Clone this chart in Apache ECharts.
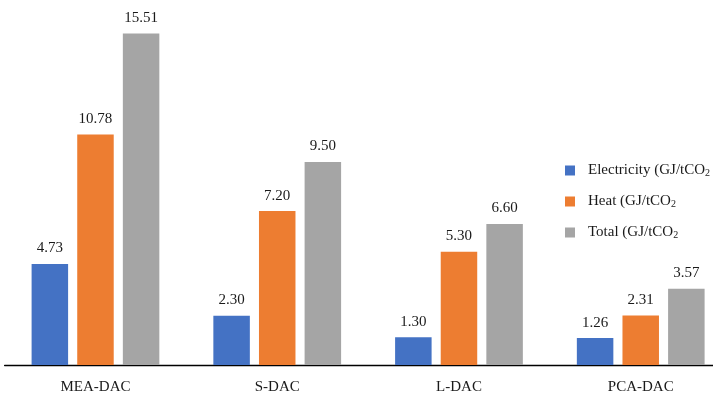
<!DOCTYPE html>
<html><head><meta charset="utf-8">
<script src="https://cdn.jsdelivr.net/npm/echarts@6/dist/echarts.min.js"></script>
<style>html,body{margin:0;padding:0;background:#fff}#c{width:713px;height:396px}</style>
</head><body><div id="c"></div>
<script>
var categories = ['MEA-DAC', 'S-DAC', 'L-DAC', 'PCA-DAC'];
var electricity = [4.73, 2.30, 1.30, 1.26];
var heat = [10.78, 7.20, 5.30, 2.31];
var total = [15.51, 9.50, 6.60, 3.57];
var seriesNames = ['Electricity (GJ/tCO2', 'Heat (GJ/tCO2', 'Total (GJ/tCO2'];
var FONT = '"Liberation Serif", "DejaVu Serif", serif';
var TXT = '#1a1a1a';
var chart = echarts.init(document.getElementById('c'));
function mk(name, data, color) {
  return {
    name: name, type: 'bar', data: data,
    barWidth: 36.5, barGap: '25%',
    itemStyle: { color: color },
    label: { show: true, position: 'top', distance: 8, color: TXT,
      fontFamily: FONT, fontSize: 15,
      formatter: function (p) { return p.value.toFixed(2); } }
  };
}
chart.setOption({
  animation: false,
  backgroundColor: '#fff',
  grid: { left: 4.6, width: 727, top: 23, height: 342, outerBoundsMode: 'none', containLabel: false },
  legend: {
    orient: 'vertical', left: 560, top: 158, itemGap: 15.5,
    itemWidth: 10, itemHeight: 10, icon: 'rect',
    data: seriesNames,
    formatter: function (n) { return '{a|' + n.slice(0, -1) + '}{s|2}'; },
    textStyle: {
      color: TXT, fontFamily: FONT, fontSize: 15, padding: [0, 0, 0, 8],
      rich: {
        a: { fontFamily: FONT, fontSize: 15, color: TXT },
        s: { fontFamily: FONT, fontSize: 10, color: TXT, verticalAlign: 'bottom', padding: [6, 0, 0, 0] }
      }
    }
  },
  xAxis: {
    type: 'category', data: categories,
    axisTick: { show: false },
    axisLine: { lineStyle: { color: '#000', width: 1.3 } },
    axisLabel: { color: TXT, fontFamily: FONT, fontSize: 15, margin: 15 }
  },
  yAxis: { type: 'value', min: 0, max: 16, show: false, splitLine: { show: false } },
  series: [
    mk(seriesNames[0], electricity, '#4472C4'),
    mk(seriesNames[1], heat, '#ED7D31'),
    mk(seriesNames[2], total, '#A5A5A5')
  ]
});
</script></body></html>
